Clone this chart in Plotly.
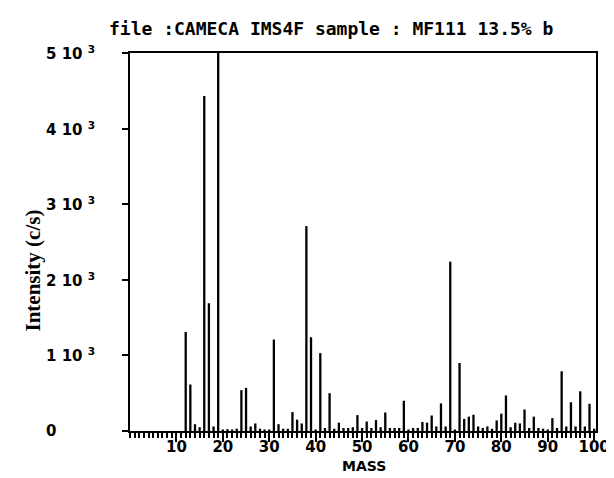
import plotly.graph_objects as go

# ---- data ----
masses = list(range(1, 101))
intensity = [
    0, 0, 0, 0, 0, 0, 0, 0, 0, 0,            # 1-10
    0, 1310, 615, 90, 50, 4430, 1690, 60, 5000, 20,   # 11-20
    25, 20, 30, 540, 570, 60, 100, 30, 20, 20,        # 21-30
    1210, 90, 30, 30, 250, 150, 100, 2710, 1240, 20,  # 31-40
    1030, 40, 500, 30, 110, 40, 40, 50, 210, 40,      # 41-50
    125, 40, 145, 50, 245, 40, 40, 40, 400, 20,       # 51-60
    40, 40, 120, 110, 205, 60, 365, 60, 2240, 20,     # 61-70
    900, 160, 190, 215, 60, 40, 60, 30, 140, 230,     # 71-80
    470, 50, 110, 100, 285, 40, 190, 40, 30, 20,      # 81-90
    170, 40, 790, 60, 380, 60, 525, 60, 360, 30,      # 91-100
]
x_tick_vals = [10, 20, 30, 40, 50, 60, 70, 80, 90, 100]
y_tick_vals = [0, 1000, 2000, 3000, 4000, 5000]
y_tick_text = ["0", "1 10 <sup>3</sup>", "2 10 <sup>3</sup>", "3 10 <sup>3</sup>",
               "4 10 <sup>3</sup>", "5 10 <sup>3</sup>"]
title_text = "file :CAMECA IMS4F sample : MF111 13.5% b"
x_title = "MASS"
y_title = "Intensity (c/s)"

# build stick spectrum from the arrays
xs, ys = [], []
for m, v in zip(masses, intensity):
    xs += [m, m, None]
    ys += [0, v, None]

fig = go.Figure()
fig.add_trace(go.Scatter(x=xs, y=ys, mode="lines",
                         line=dict(color="black", width=2.3),
                         hoverinfo="skip", showlegend=False))

W, H = 614, 478
L, R, T, B = 122, 14, 45, 55
pw = W - L - R
ph = H - T - B

def px_to_paper_x(px):
    return (px - L) / pw

def px_to_paper_y(py):
    return (H - B - py) / ph

fig.update_layout(
    width=W, height=H,
    margin=dict(l=L, r=R, t=T, b=B),
    paper_bgcolor="white", plot_bgcolor="white",
    showlegend=False,
    xaxis=dict(range=[0, 100.4], showgrid=False, zeroline=False,
               showline=True, linecolor="black", linewidth=2, mirror=True,
               tickmode="array", tickvals=x_tick_vals,
               ticks="outside", ticklen=9, tickwidth=2, tickcolor="black",
               minor=dict(dtick=1, tick0=0, ticks="outside", ticklen=5,
                          tickwidth=2, tickcolor="black"),
               tickfont=dict(family="DejaVu Sans", size=15, color="black",
                             weight="bold"),
               ticklabelstandoff=-8),
    yaxis=dict(range=[0, 5000], showgrid=False, zeroline=False,
               showline=True, linecolor="black", linewidth=2, mirror=True,
               tickmode="array", tickvals=y_tick_vals,
               ticks="outside", ticklen=6, tickwidth=2, tickcolor="black",
               showticklabels=False),
)

annotations = []
for v, t in zip(y_tick_vals, y_tick_text):
    annotations.append(dict(
        x=px_to_paper_x(34), xref="paper", y=v, yref="y",
        text="<b>" + t + "</b>", showarrow=False, xanchor="left",
        yanchor="middle",
        font=dict(family="DejaVu Sans", size=15, color="black")))

annotations.append(dict(
    x=px_to_paper_x(98), xref="paper", y=px_to_paper_y(20),
    yref="paper", text="<b>" + title_text + "</b>", showarrow=False,
    xanchor="left", yanchor="middle",
    font=dict(family="DejaVu Sans Mono", size=18, color="black")))

annotations.append(dict(
    x=50.5, xref="x", y=px_to_paper_y(458), yref="paper",
    text="<b>" + x_title + "</b>", showarrow=False,
    xanchor="center", yanchor="middle",
    font=dict(family="DejaVu Sans", size=14, color="black")))

annotations.append(dict(
    x=px_to_paper_x(22), xref="paper", y=px_to_paper_y(263),
    yref="paper", text="<b>" + y_title + "</b>", showarrow=False,
    textangle=-90, xanchor="center", yanchor="middle",
    font=dict(family="Liberation Serif", size=21, color="black")))

fig.update_layout(annotations=annotations)
fig.write_html("out.html")
